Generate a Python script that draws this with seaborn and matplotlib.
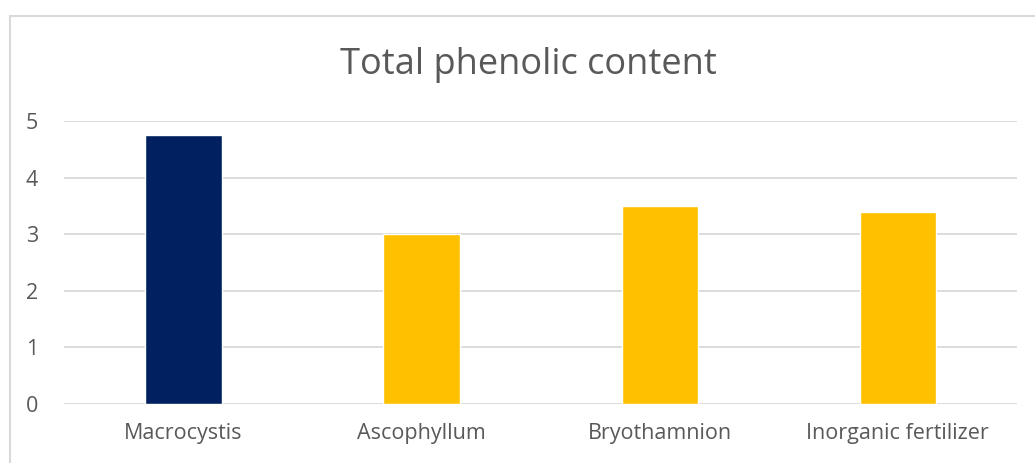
import matplotlib
matplotlib.use('Agg')
import matplotlib.pyplot as plt
import seaborn as sns
import pandas as pd
from matplotlib.patches import Rectangle

categories = ['Macrocystis', 'Ascophyllum', 'Bryothamnion', 'Inorganic fertilizer']
values = [4.75, 3.0, 3.5, 3.4]
bar_colors = ['#002060', '#FFC000', '#FFC000', '#FFC000']
y_ticks = [0, 1, 2, 3, 4, 5]

df = pd.DataFrame({'treatment': categories, 'phenolic': values})

sns.set_style('white')
plt.rcParams['font.family'] = ['Open Sans', 'DejaVu Sans']

fig = plt.figure(figsize=(10.35, 4.63), dpi=100)
ax = fig.add_axes([0.0623, 0.1274, 0.920, 0.6113])

sns.barplot(data=df, x='treatment', y='phenolic', hue='treatment',
            palette=bar_colors, width=0.32, legend=False, ax=ax, saturation=1)

ax.set_ylim(0, 5)
ax.set_xlim(-0.5, 3.5)
ax.set_yticks(y_ticks)
ax.yaxis.grid(True, color='#d9d9d9', linewidth=1.3)
ax.set_axisbelow(True)
for s in ax.spines.values():
    s.set_visible(False)
ax.set_xlabel('')
ax.set_ylabel('')
ax.tick_params(axis='both', length=0, labelsize=15.5, colors='#595959')
ax.tick_params(axis='y', pad=19)
ax.tick_params(axis='x', pad=14)

fig.text(0.511, 1 - 65 / 463, 'Total phenolic content', ha='center', va='center',
         fontsize=26, color='#595959', fontweight='normal')

fig.patches.append(Rectangle((10 / 1035, -0.1), 1.2, 1 - 16 / 463 + 0.1,
                             transform=fig.transFigure, fill=False,
                             edgecolor='#d9d9d9', linewidth=1.5))

fig.savefig('out.png', dpi=100)
